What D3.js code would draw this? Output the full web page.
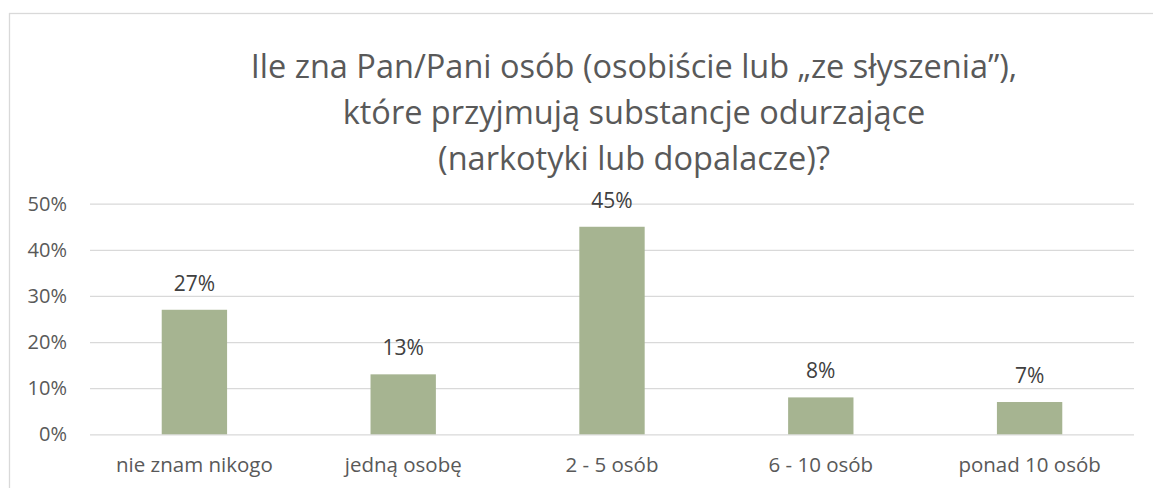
<!doctype html>
<html lang="pl">
<head>
    <meta charset="UTF-8">
    <title>Chart</title>
    <script src="https://d3js.org/d3.v7.min.js"></script>
    <style>
        body { margin: 0; background: #fff; }
        text { font-family: "Open Sans", "Noto Sans", sans-serif; }
    </style>
</head>
<body>
<div id="chart-area"></div>

<script>

const categories = ['nie znam nikogo', 'jedną osobę', '2 - 5 osób', '6 - 10 osób', 'ponad 10 osób'];
const values = [27, 13, 45, 8, 7];
const yTicks = [0, 10, 20, 30, 40, 50];
const titleLines = [
    'Ile zna Pan/Pani osób (osobiście lub „ze słyszenia”),',
    'które przyjmują substancje odurzające',
    '(narkotyki lub dopalacze)?'
];

const W = 1153, H = 488;
const margin = { top: 203.7, right: 19, bottom: 53.7, left: 90 };
const chartW = W - margin.left - margin.right;
const chartH = H - margin.top - margin.bottom;

const svg = d3.select('#chart-area')
    .append('svg')
    .attr('width', W)
    .attr('height', H);

// outer chart frame
svg.append('rect')
    .attr('x', 9.5)
    .attr('y', 13.5)
    .attr('width', W + 20)
    .attr('height', H + 20)
    .attr('fill', '#fff')
    .attr('stroke', '#d9d9d9')
    .attr('stroke-width', 1.3);

// title
svg.append('g')
    .selectAll('text')
    .data(titleLines)
    .enter().append('text')
    .attr('x', 634)
    .attr('y', (d, i) => 78 + i * 46)
    .attr('text-anchor', 'middle')
    .attr('font-size', '32.5px')
    .attr('fill', '#595959')
    .text(d => d);

const g = svg.append('g')
    .attr('transform', `translate(${margin.left},${margin.top})`);

const x = d3.scaleBand()
    .domain(categories)
    .range([0, chartW])
    .paddingInner(0.687)
    .paddingOuter(0.687 / 2);

const y = d3.scaleLinear()
    .domain([0, 50])
    .range([chartH, 0]);

// gridlines
const yAxis = g.append('g')
    .call(d3.axisLeft(y).tickValues(yTicks).tickSize(-chartW).tickFormat(d => d + '%'));
yAxis.select('.domain').remove();
yAxis.selectAll('.tick line')
    .attr('stroke', '#d9d9d9')
    .attr('stroke-width', 1.3);
yAxis.selectAll('.tick text')
    .attr('x', -23)
    .attr('font-size', '20px')
    .attr('fill', '#595959');

// bars
g.selectAll('rect.bar')
    .data(values)
    .enter().append('rect')
    .attr('class', 'bar')
    .attr('x', (d, i) => x(categories[i]))
    .attr('y', d => y(d))
    .attr('width', x.bandwidth())
    .attr('height', d => chartH - y(d))
    .attr('fill', '#a6b491');

// data labels
g.selectAll('text.lbl')
    .data(values)
    .enter().append('text')
    .attr('class', 'lbl')
    .attr('x', (d, i) => x(categories[i]) + x.bandwidth() / 2)
    .attr('y', d => y(d) - 19)
    .attr('text-anchor', 'middle')
    .attr('font-size', '21px')
    .attr('fill', '#404040')
    .text(d => d + '%');

// x axis
const xAxis = g.append('g')
    .attr('transform', `translate(0,${chartH})`)
    .call(d3.axisBottom(x).tickSize(0).tickPadding(0));
xAxis.select('.domain').remove();
xAxis.selectAll('.tick text')
    .attr('dy', null)
    .attr('y', 38)
    .attr('font-size', '20.5px')
    .attr('fill', '#595959');

</script>

</body>
</html>
